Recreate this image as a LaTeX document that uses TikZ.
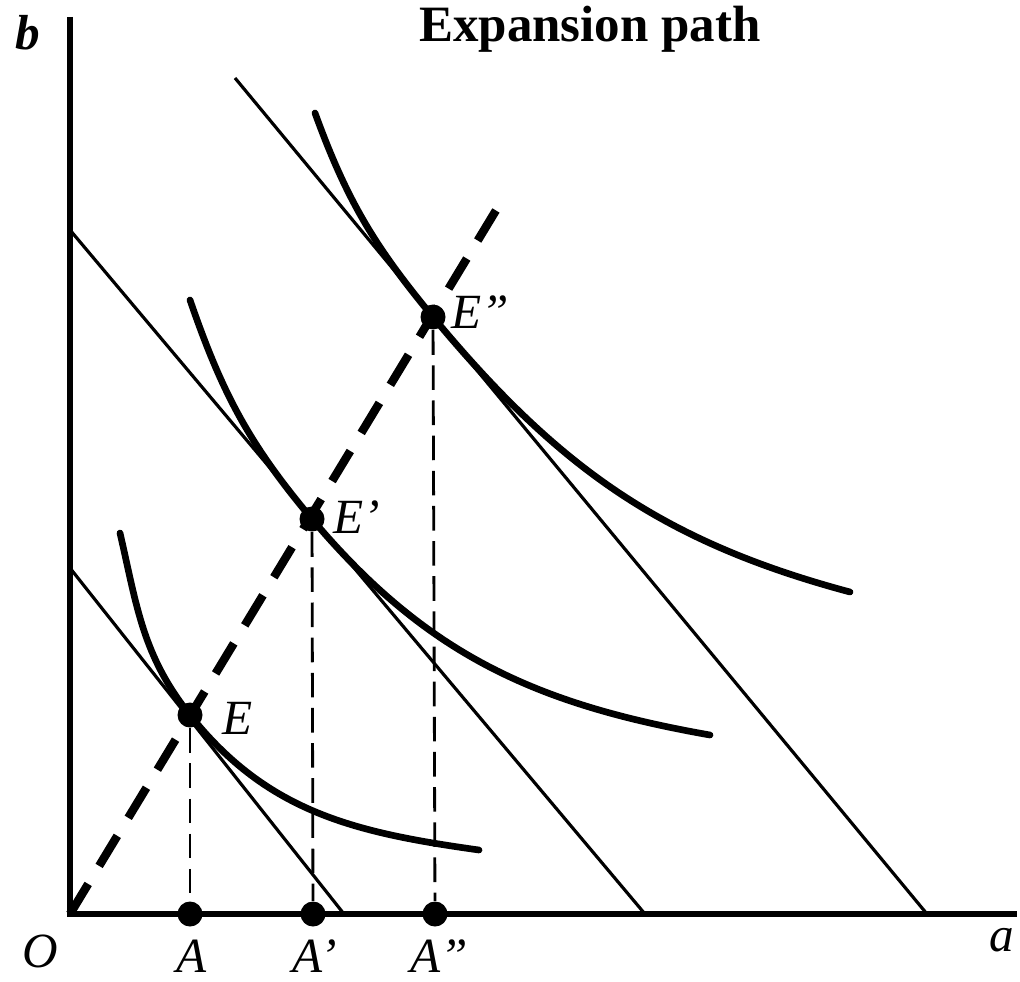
\documentclass[tikz,border=0pt]{standalone}
\usepackage{fontspec}
\setmainfont{Liberation Serif}
\usetikzlibrary{positioning}

\begin{document}
\begin{tikzpicture}[
    axis/.style={line width=1.6pt},
    budget/.style={line width=0.9pt},
    indiff/.style={line width=1.9pt, line cap=round},
    expath/.style={line width=2.4pt, dash pattern=on 10pt off 6pt},
    drop/.style={line width=0.8pt, dash pattern=on 7pt off 3pt},
    pt/.style={circle, fill, inner sep=0pt, minimum size=0.25cm},
    lbl/.style={font=\fontsize{14}{16}\selectfont\itshape}
]
\useasboundingbox (0,0) rectangle (10.2,9.81);

\coordinate (O) at (0.70,0.67);
\coordinate (btop) at (0.70,9.64);
\coordinate (aend) at (10.17,0.67);

\draw[axis] (btop) -- (O) -- (aend);

\node[pt] (E) at (1.90,2.66) {};
\node[pt] (E1) at (3.12,4.62) {};
\node[pt] (E2) at (4.33,6.64) {};

\node[pt] (A) at (1.90,0.67) {};
\node[pt] (A1) at (3.13,0.67) {};
\node[pt] (A2) at (4.35,0.67) {};

\coordinate (l1a) at (0.70,4.13);
\coordinate (l1b) at (3.44,0.67);
\coordinate (l2a) at (0.70,7.51);
\coordinate (l2b) at (6.45,0.67);
\coordinate (l3a) at (2.35,9.03);
\coordinate (l3b) at (9.27,0.67);

\draw[budget] (l1a) -- (l1b);
\draw[budget] (l2a) -- (l2b);
\draw[budget] (l3a) -- (l3b);

\coordinate (c1a) at (1.20,4.48);
\coordinate (c1b) at (4.79,1.31);
\coordinate (c2a) at (1.90,6.81);
\coordinate (c2b) at (7.10,2.46);
\coordinate (c3a) at (3.15,8.68);
\coordinate (c3b) at (8.50,3.89);

\draw[indiff] (c1a) to[out=-77,in=128.5] (E.center) to[out=-51.5,in=172] (c1b);
\draw[indiff] (c2a) to[out=-71,in=130.1] (E1.center) to[out=-49.9,in=170] (c2b);
\draw[indiff] (c3a) to[out=-70,in=129.7] (E2.center) to[out=-50.3,in=165] (c3b);

\coordinate (xtop) at (4.98,7.74);
\draw[expath] (O) -- (xtop);

\draw[drop] (E) -- (A);
\draw[drop] (E1) -- (A1);
\draw[drop] (E2) -- (A2);

\node[lbl] (Elbl) at (2.38,2.63) {E};
\node[lbl] (E1lbl) at (3.57,4.64) {E'};
\node[lbl] (E2lbl) at (4.80,6.69) {E''};

\node[lbl] (Albl) at (1.92,0.25) {A};
\node[lbl] (A1lbl) at (3.15,0.25) {A'};
\node[lbl] (A2lbl) at (4.39,0.25) {A''};

\node[lbl] (Olbl) at (0.40,0.30) {O};
\node[lbl] (albl) at (10.02,0.41) {a};
\node[lbl, font=\fontsize{14}{16}\selectfont\bfseries\itshape] (blbl) at (0.28,9.48) {b};

\node[font=\fontsize{14.5}{17}\selectfont\bfseries] (exp) at (5.90,9.52) {Expansion path};

\end{tikzpicture}
\end{document}
